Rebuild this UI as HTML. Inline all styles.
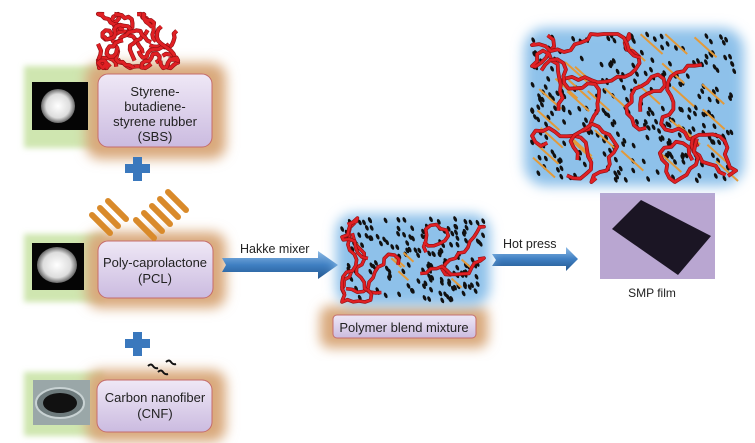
<!DOCTYPE html>
<html><head><meta charset="utf-8"><style>
html,body{margin:0;padding:0;background:#fff;}
svg{display:block;font-family:"Liberation Sans",sans-serif;}
</style></head><body>
<svg id="s" width="755" height="443" viewBox="0 0 755 443" xmlns="http://www.w3.org/2000/svg">
<defs>
<filter id="blur6" x="-30%" y="-30%" width="160%" height="160%"><feGaussianBlur stdDeviation="6"/></filter>
<filter id="blur3" x="-30%" y="-30%" width="160%" height="160%"><feGaussianBlur stdDeviation="3"/></filter>
<linearGradient id="box" x1="0" y1="0" x2="0" y2="1"><stop offset="0" stop-color="#efe8f6"/><stop offset="1" stop-color="#cbbbe0"/></linearGradient>
<linearGradient id="arr" x1="0" y1="0" x2="0" y2="1"><stop offset="0" stop-color="#8fbce6"/><stop offset="0.5" stop-color="#3f7fc2"/><stop offset="1" stop-color="#24578f"/></linearGradient>
<radialGradient id="ball"><stop offset="0" stop-color="#fff"/><stop offset="0.7" stop-color="#ddd"/><stop offset="1" stop-color="#666"/></radialGradient>
<clipPath id="k1"><rect x="336" y="212" width="154" height="94"/></clipPath>
<clipPath id="k2"><rect x="526" y="28" width="216" height="160"/></clipPath>
<clipPath id="k3"><rect x="94" y="10" width="88" height="62"/></clipPath>
</defs>
<rect x="24" y="66" width="80" height="82" fill="#cfe6b0" filter="url(#blur3)"/>
<rect x="24" y="234" width="80" height="68" fill="#cfe6b0" filter="url(#blur3)"/>
<rect x="24" y="372" width="80" height="64" fill="#cfe6b0" filter="url(#blur3)"/>
<rect x="86" y="63" width="140" height="96" rx="14" fill="#d9a97c" filter="url(#blur6)"/>
<rect x="86" y="232" width="140" height="76" rx="14" fill="#d9a97c" filter="url(#blur6)"/>
<rect x="86" y="370" width="140" height="72" rx="14" fill="#d9a97c" filter="url(#blur6)"/>
<rect x="320" y="306" width="168" height="42" rx="10" fill="#d9a97c" filter="url(#blur6)"/>
<rect x="32" y="82" width="56" height="48" fill="#050505"/>
<circle cx="58" cy="106" r="17" fill="url(#ball)"/>
<rect x="32" y="243" width="52" height="47" fill="#050505"/>
<ellipse cx="57" cy="265" rx="20" ry="18" fill="url(#ball)"/>
<rect x="33" y="380" width="57" height="45" fill="#9aa7a8"/>
<ellipse cx="60" cy="403" rx="24" ry="15" fill="#6d7a7c" stroke="#c8d2d3" stroke-width="2"/>
<ellipse cx="60" cy="403" rx="17" ry="10" fill="#111"/>
<rect x="98" y="74" width="114" height="73" rx="10" fill="url(#box)" stroke="#c56c6c" stroke-width="1"/>
<text font-size="13" fill="#222" text-anchor="middle"><tspan x="155" y="96">Styrene-</tspan><tspan x="155" y="111">butadiene-</tspan><tspan x="155" y="126">styrene rubber</tspan><tspan x="155" y="141">(SBS)</tspan></text>
<rect x="98" y="241" width="115" height="57" rx="10" fill="url(#box)" stroke="#c56c6c" stroke-width="1"/>
<text font-size="13" fill="#222" text-anchor="middle"><tspan x="155" y="267">Poly-caprolactone</tspan><tspan x="155" y="283">(PCL)</tspan></text>
<rect x="97" y="380" width="115" height="52" rx="10" fill="url(#box)" stroke="#c56c6c" stroke-width="1"/>
<text font-size="13" fill="#222" text-anchor="middle"><tspan x="155" y="402">Carbon nanofiber</tspan><tspan x="155" y="418">(CNF)</tspan></text>
<rect x="333" y="315" width="143" height="23" rx="4" fill="url(#box)" stroke="#c56c6c" stroke-width="1"/>
<text x="404" y="332" font-size="13" fill="#222" text-anchor="middle">Polymer blend mixture</text>
<g fill="#3a78bd"><rect x="133" y="157" width="9" height="24"/><rect x="125" y="164" width="25" height="9"/>
<rect x="133" y="332" width="9" height="24"/><rect x="125" y="339" width="25" height="9"/></g>
<g stroke="#111" stroke-width="2" fill="none"><path d="M148 366q3 -3 5 0t5 2"/><path d="M158 372q3 -3 5 0t5 2"/><path d="M166 362q3 -3 5 0t5 2"/></g>
<g id="rods"></g>
<path d="M222 258 H318 V251 L338 265 L318 279 V272 H222 L226 265 Z" fill="url(#arr)"/>
<text x="240" y="253" font-size="12.5" fill="#222">Hakke mixer</text>
<path d="M492 254 H566 V247 L578 259 L566 271 V266 H492 L496 260 Z" fill="url(#arr)"/>
<text x="503" y="248" font-size="12.5" fill="#222">Hot press</text>
<rect x="600" y="193" width="115" height="86" fill="#b9a6d1"/>
<path d="M612 229 L641 200 L711 236 L678 275 Z" fill="#1b1524"/>
<text x="652" y="297" font-size="12" fill="#222" text-anchor="middle">SMP film</text>
<rect x="336" y="214" width="154" height="92" rx="18" fill="#8ec1ea" filter="url(#blur6)"/>
<rect x="524" y="28" width="220" height="158" rx="22" fill="#8ec1ea" filter="url(#blur6)"/>
<g id="c1" clip-path="url(#k1)"></g><g id="c2" clip-path="url(#k2)"></g><g id="c3" clip-path="url(#k3)"></g>
</svg>
<script>
var seed=7;function r(){seed=(seed*16807)%2147483647;return seed/2147483647;}
var NS="http://www.w3.org/2000/svg";
function el(g,t,a){var e=document.createElementNS(NS,t);for(var k in a)e.setAttribute(k,a[k]);g.appendChild(e);return e;}
function chain(g,x0,y0,w,h,rw,step,len){
 var x=x0+r()*w,y=y0+r()*h,ang=r()*6.28,d="M"+x.toFixed(1)+" "+y.toFixed(1);
 for(var j=0;j<len;j++){ang+=(r()-0.5)*2.2;x+=Math.cos(ang)*step;y+=Math.sin(ang)*step;
  if(x<x0){x=x0;ang=Math.PI-ang;}if(x>x0+w){x=x0+w;ang=Math.PI-ang;}
  if(y<y0){y=y0;ang=-ang;}if(y>y0+h){y=y0+h;ang=-ang;}
  d+=" L"+x.toFixed(1)+" "+y.toFixed(1);}
 el(g,"path",{d:d,stroke:"#8a0d10","stroke-width":rw+1.2,fill:"none","stroke-linejoin":"round"});
 el(g,"path",{d:d,stroke:"#e02024","stroke-width":rw,fill:"none","stroke-linejoin":"round"});
}
function cluster(id,x0,y0,w,h,nd,nr,nc,rw,rod,step,len){
 var g=document.getElementById(id);
 for(var i=0;i<nd;i++){var x=x0+r()*w,y=y0+r()*h;el(g,"ellipse",{cx:x,cy:y,rx:1.6,ry:3,fill:"#111",transform:"rotate(-25 "+x+" "+y+")"});}
 if(rod)for(var i=0;i<nr;i++){var x=x0+r()*(w-20),y=y0+r()*(h-20);el(g,"line",{x1:x,y1:y,x2:x+rod,y2:y+rod*0.9,stroke:"#e39a3a","stroke-width":2});}
 for(var i=0;i<nc;i++)chain(g,x0,y0,w,h,rw,step,len);
}
cluster("c3",98,14,80,54,0,0,22,3,0,4,10);
cluster("c1",342,218,142,84,160,7,8,2.4,10,6,14);
cluster("c2",532,34,204,148,260,30,10,2.6,22,7,20);
var rg=document.getElementById("rods");
[[92,205],[100,198],[108,191],[136,210],[144,203],[152,196],[160,189],[168,182]].forEach(function(p){el(rg,"line",{x1:p[0],y1:p[1]+10,x2:p[0]+18,y2:p[1]+28,stroke:"#d98a2a","stroke-width":6,"stroke-linecap":"round"});});
</script>
</body></html>
